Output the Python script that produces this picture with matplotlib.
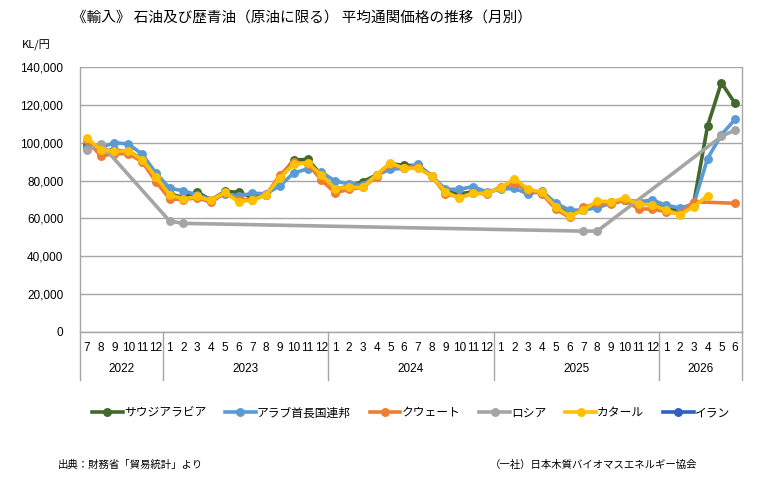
import numpy as np
import matplotlib
matplotlib.use("Agg")
import matplotlib.pyplot as plt
from matplotlib.lines import Line2D

plt.rcParams['font.family'] = ['Noto Sans CJK JP', 'DejaVu Sans']

NaN = np.nan
# 2022-07 .. 2026-06 (48 months)
years = [2022, 2023, 2024, 2025, 2026]
year_month_counts = [6, 12, 12, 12, 6]
months = [7, 8, 9, 10, 11, 12] + list(range(1, 13)) * 3 + [1, 2, 3, 4, 5, 6]

saudi = [99000, 96000, 96000, 95500, 91500, 82500, 73000, 71000, 74000, 69700, 74300, 73800,
         71000, 72500, 82000, 90800, 91200, 83000, 75500, 77000, 79400, 83000, 89000, 88000,
         88000, 82600, 74000, 73000, 74000, 73500, 76000, 79000, 74500, 73500, 66500, 62000,
         64500, 68000, 68500, 70000, 67500, 67500, 65000, 64500, 68000, 108700, 131700, 120800]
uae = [97300, 97500, 100000, 99300, 94000, 84000, 76000, 74500, 72500, 70000, 73000, 71800,
       73300, 73000, 77300, 84000, 86200, 84500, 79700, 78300, 77600, 83000, 85900, 86500,
       88500, 82400, 75400, 75400, 76800, 74000, 75400, 75900, 72900, 74500, 68000, 64400,
       64400, 65700, 68000, 70000, 68800, 69700, 67000, 65500, 67500, 91600, 104200, 112300]
kuwait = [101500, 93000, 94200, 94200, 90000, 79500, 70300, 70000, 71000, 68500, 73500, 69700,
          70000, 72300, 83000, 89800, 89000, 80300, 73500, 75400, 76400, 82000, 88600, 86500,
          87000, 82400, 72900, 71400, 73300, 73000, 76700, 78500, 75000, 73000, 64900, 60500,
          65800, 68000, 67500, 69700, 65000, 65000, 63500, 62500, 68800, NaN, NaN, 68000]
russia = [96000, 99500, NaN, NaN, NaN, NaN, 58600, 57400, NaN, NaN, NaN, NaN,
          NaN, NaN, NaN, NaN, NaN, NaN, NaN, NaN, NaN, NaN, NaN, NaN,
          NaN, NaN, NaN, NaN, NaN, NaN, NaN, NaN, NaN, NaN, NaN, NaN,
          53300, 53300, NaN, NaN, NaN, NaN, NaN, NaN, NaN, NaN, 103300, 106700]
qatar = [102500, 96300, 95400, 95800, 91000, 82000, 72500, 70300, 71600, 69500, 73800, 68800,
         69700, 72500, 81500, 88500, 89400, 83000, 75800, 76400, 76400, 83000, 89400, 86400,
         86500, 82400, 74100, 70600, 73300, 73300, 76100, 81000, 75400, 73800, 66200, 61200,
         64400, 69200, 68800, 70700, 67500, 67200, 64400, 62000, 66200, 72000, NaN, NaN]
iran = [NaN] * 48

series_names = ['サウジアラビア', 'アラブ首長国連邦', 'クウェート', 'ロシア', 'カタール', 'イラン']
series_values = [saudi, uae, kuwait, russia, qatar, iran]
colors = ['#43682B', '#5B9BD5', '#ED7D31', '#A5A5A5', '#FFC000', '#3060C0']

W, H = 777, 482
fig = plt.figure(figsize=(W / 100, H / 100), dpi=100)
L, R, T, B = 80, 742, 67, 332
ax = fig.add_axes([L / W, 1 - B / H, (R - L) / W, (B - T) / H])

x = np.arange(len(months))
for name, vals, c in zip(series_names, series_values, colors):
    v = np.array(vals, dtype=float)
    m = ~np.isnan(v)
    if m.any():
        ax.plot(x[m], v[m], color=c, lw=2.6, marker='o', ms=5.4, solid_capstyle='round',
                solid_joinstyle='round', zorder=3)

ax.set_xlim(-0.5, len(months) - 0.5)
ax.set_ylim(0, 140000)
yt = np.arange(0, 140001, 20000)
ax.set_yticks(yt)
ax.set_yticklabels([f'{v:,}' for v in yt], fontsize=8.5, family=['Liberation Sans', 'DejaVu Sans'])
ax.tick_params(axis='y', length=0, pad=12)
ax.grid(axis='y', color='#A6A6A6', lw=1.0, zorder=0)
ax.set_xticks([])
for s in ['top', 'right']:
    ax.spines[s].set_visible(False)
ax.spines['left'].set_color('#A6A6A6')
ax.spines['bottom'].set_color('#A6A6A6')
ax.spines['left'].set_linewidth(1.0)
ax.spines['bottom'].set_linewidth(1.0)

# month labels
tr = ax.get_xaxis_transform()
cat_font = ['Liberation Sans Narrow', 'Liberation Sans', 'DejaVu Sans']
for i, mth in enumerate(months):
    ax.text(i, -16 / (B - T), str(mth), transform=tr, ha='center', va='center',
            fontsize=8.5, family=cat_font)
# year separators and labels
bounds = np.concatenate([[0], np.cumsum(year_month_counts)]) - 0.5
for b in bounds:
    ax.plot([b, b], [0, -48 / (B - T)], transform=tr, color='#A6A6A6', lw=1.0, clip_on=False)
ax.plot([bounds[-1], bounds[-1]], [0, 1], transform=tr, color='#A6A6A6', lw=1.0, clip_on=False)
for yr, a, b in zip(years, bounds[:-1], bounds[1:]):
    ax.text((a + b) / 2, -37 / (B - T), str(yr), transform=tr, ha='center', va='center',
            fontsize=8.5, family=cat_font)

fig.text(302 / W, 1 - 18 / H, '《輸入》 石油及び歴青油（原油に限る） 平均通関価格の推移（月別）',
         ha='center', va='center', fontsize=10.5)
fig.text(22 / W, 1 - 45 / H, 'KL/円', ha='left', va='center', fontsize=8)

handles = [Line2D([0], [0], color=c, lw=2.6, marker='o', ms=5.4) for c in colors]
fig.legend(handles, series_names, loc='center', bbox_to_anchor=(411 / W, 1 - 413 / H), ncol=6,
           frameon=False, fontsize=8.5, handlelength=2.6, handletextpad=0.1, columnspacing=1.6)

fig.text(58 / W, 1 - 465 / H, '出典：財務省「貿易統計」より', ha='left', va='center', fontsize=7.5)
fig.text(490 / W, 1 - 465 / H, '（一社）日本木質バイオマスエネルギー協会', ha='left', va='center', fontsize=7.5)

fig.savefig('out.png', dpi=100)
